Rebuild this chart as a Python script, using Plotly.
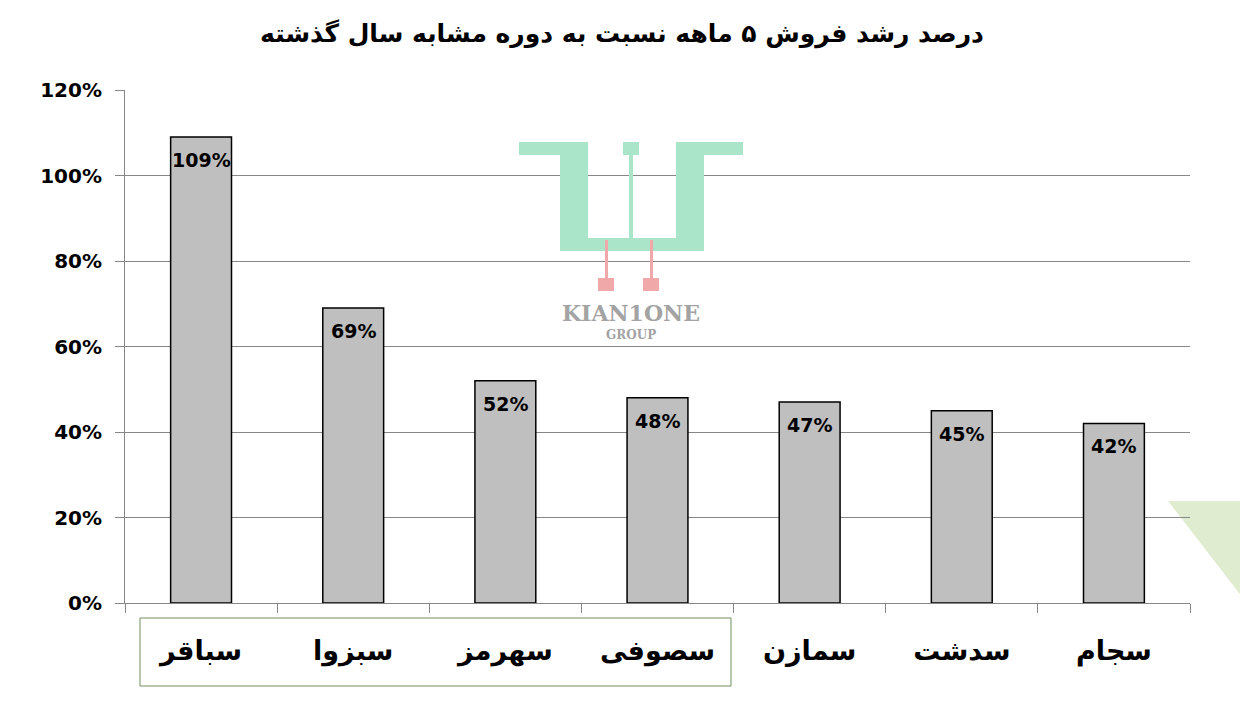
import plotly.graph_objects as go

categories = ["سباقر", "سبزوا", "سهرمز", "سصوفی", "سمازن", "سدشت", "سجام"]
growth_pct = [109, 69, 52, 48, 47, 45, 42]
y_ticks = [0, 20, 40, 60, 80, 100, 120]
y_tick_labels = [f"{v}%" for v in y_ticks]
title_text = "درصد رشد فروش ۵ ماهه نسبت به دوره مشابه سال گذشته"

OFF = 8  # page body margin
W, H = 1248 - 2 * OFF, 719 - 2 * OFF
# plot area in screen pixels
L, R, T, B = 125, 1190, 90, 603

def px(x):
    return (x - L) / (R - L)

def py(y):
    return (B - y) / (B - T)

fig = go.Figure()
fig.add_trace(go.Bar(
    x=categories,
    y=growth_pct,
    width=0.4,
    marker=dict(color="#bfbfbf", line=dict(color="#000000", width=1.5)),
    hoverinfo="skip",
))

annotations = []
for c, v in zip(categories, growth_pct):
    annotations.append(dict(
        x=c, y=v, xref="x", yref="y", text=f"{v}%", showarrow=False,
        yanchor="top", xanchor="center", yshift=-10,
        font=dict(family="DejaVu Sans", size=19, color="#000000", weight="bold"),
    ))

shapes = []
green = "#abe5c9"
pink = "#f0a8a8"
def rect(x0, y0, x1, y1, color, layer="above"):
    shapes.append(dict(type="rect", xref="paper", yref="paper",
                       x0=px(x0), x1=px(x1), y0=py(y1), y1=py(y0),
                       fillcolor=color, line=dict(width=0), layer=layer))

# watermark logo
rect(519, 142, 588, 155, green)
rect(560, 142, 588, 251, green)
rect(560, 238, 704, 251, green)
rect(676, 142, 704, 251, green)
rect(676, 142, 743, 155, green)
rect(623, 142, 639, 155, green)
rect(629, 155, 633, 238, green)
rect(605, 240, 608, 280, pink)
rect(650, 240, 653, 280, pink)
rect(598, 278, 614, 291, pink)
rect(643, 278, 659, 291, pink)

# highlight box around first four labels
shapes.append(dict(type="rect", xref="paper", yref="paper",
                   x0=px(140), x1=px(731), y0=py(686), y1=py(618),
                   line=dict(color="#6f8f5f", width=1), fillcolor="rgba(0,0,0,0)"))
# decorative triangle
shapes.append(dict(type="path", xref="paper", yref="paper",
                   path=f"M {px(1168)},{py(501)} L {px(1260)},{py(501)} L {px(1260)},{py(620)} Z",
                   fillcolor="#dfeccf", line=dict(width=0), layer="below"))

annotations += [
    dict(text="KIAN1ONE", xref="paper", yref="paper", x=px(631), y=py(313),
         showarrow=False, font=dict(family="DejaVu Serif", size=22, color="#a3a3a3", weight="bold"),
         xanchor="center", yanchor="middle"),
    dict(text="GROUP", xref="paper", yref="paper", x=px(631), y=py(335),
         showarrow=False, font=dict(family="DejaVu Serif", size=12, color="#a3a3a3", weight="bold"),
         xanchor="center", yanchor="middle"),
]

fig.update_layout(
    width=W, height=H,
    margin=dict(l=L - OFF, r=W - (R - OFF), t=T - OFF, b=H - (B - OFF), pad=0),
    paper_bgcolor="#ffffff", plot_bgcolor="#ffffff",
    showlegend=False,
    title=dict(text=title_text, xref="container", x=(622 - OFF) / W, xanchor="center",
               yref="container", y=1 - (33 - OFF) / H, yanchor="middle",
               font=dict(family="DejaVu Sans", size=25, color="#000000", weight="bold")),
    shapes=shapes,
    annotations=annotations,
)
fig.update_xaxes(
    type="category",
    showline=True, linecolor="#878787", linewidth=1,
    ticks="outside", tickson="boundaries", ticklen=9, tickcolor="#878787",
    tickfont=dict(family="DejaVu Sans", size=27, color="#000000", weight="bold"),
    ticklabelstandoff=24,
    showgrid=False,
)
fig.update_yaxes(
    range=[0, 120],
    tickvals=y_ticks, ticktext=y_tick_labels,
    showline=True, linecolor="#878787", linewidth=1,
    ticks="outside", ticklen=9, tickcolor="#878787",
    showgrid=True, gridcolor="#878787", gridwidth=1,
    zeroline=False,
    tickfont=dict(family="DejaVu Sans", size=20, color="#000000", weight="bold"),
    ticklabelstandoff=9,
)

fig.write_html("out.html")
